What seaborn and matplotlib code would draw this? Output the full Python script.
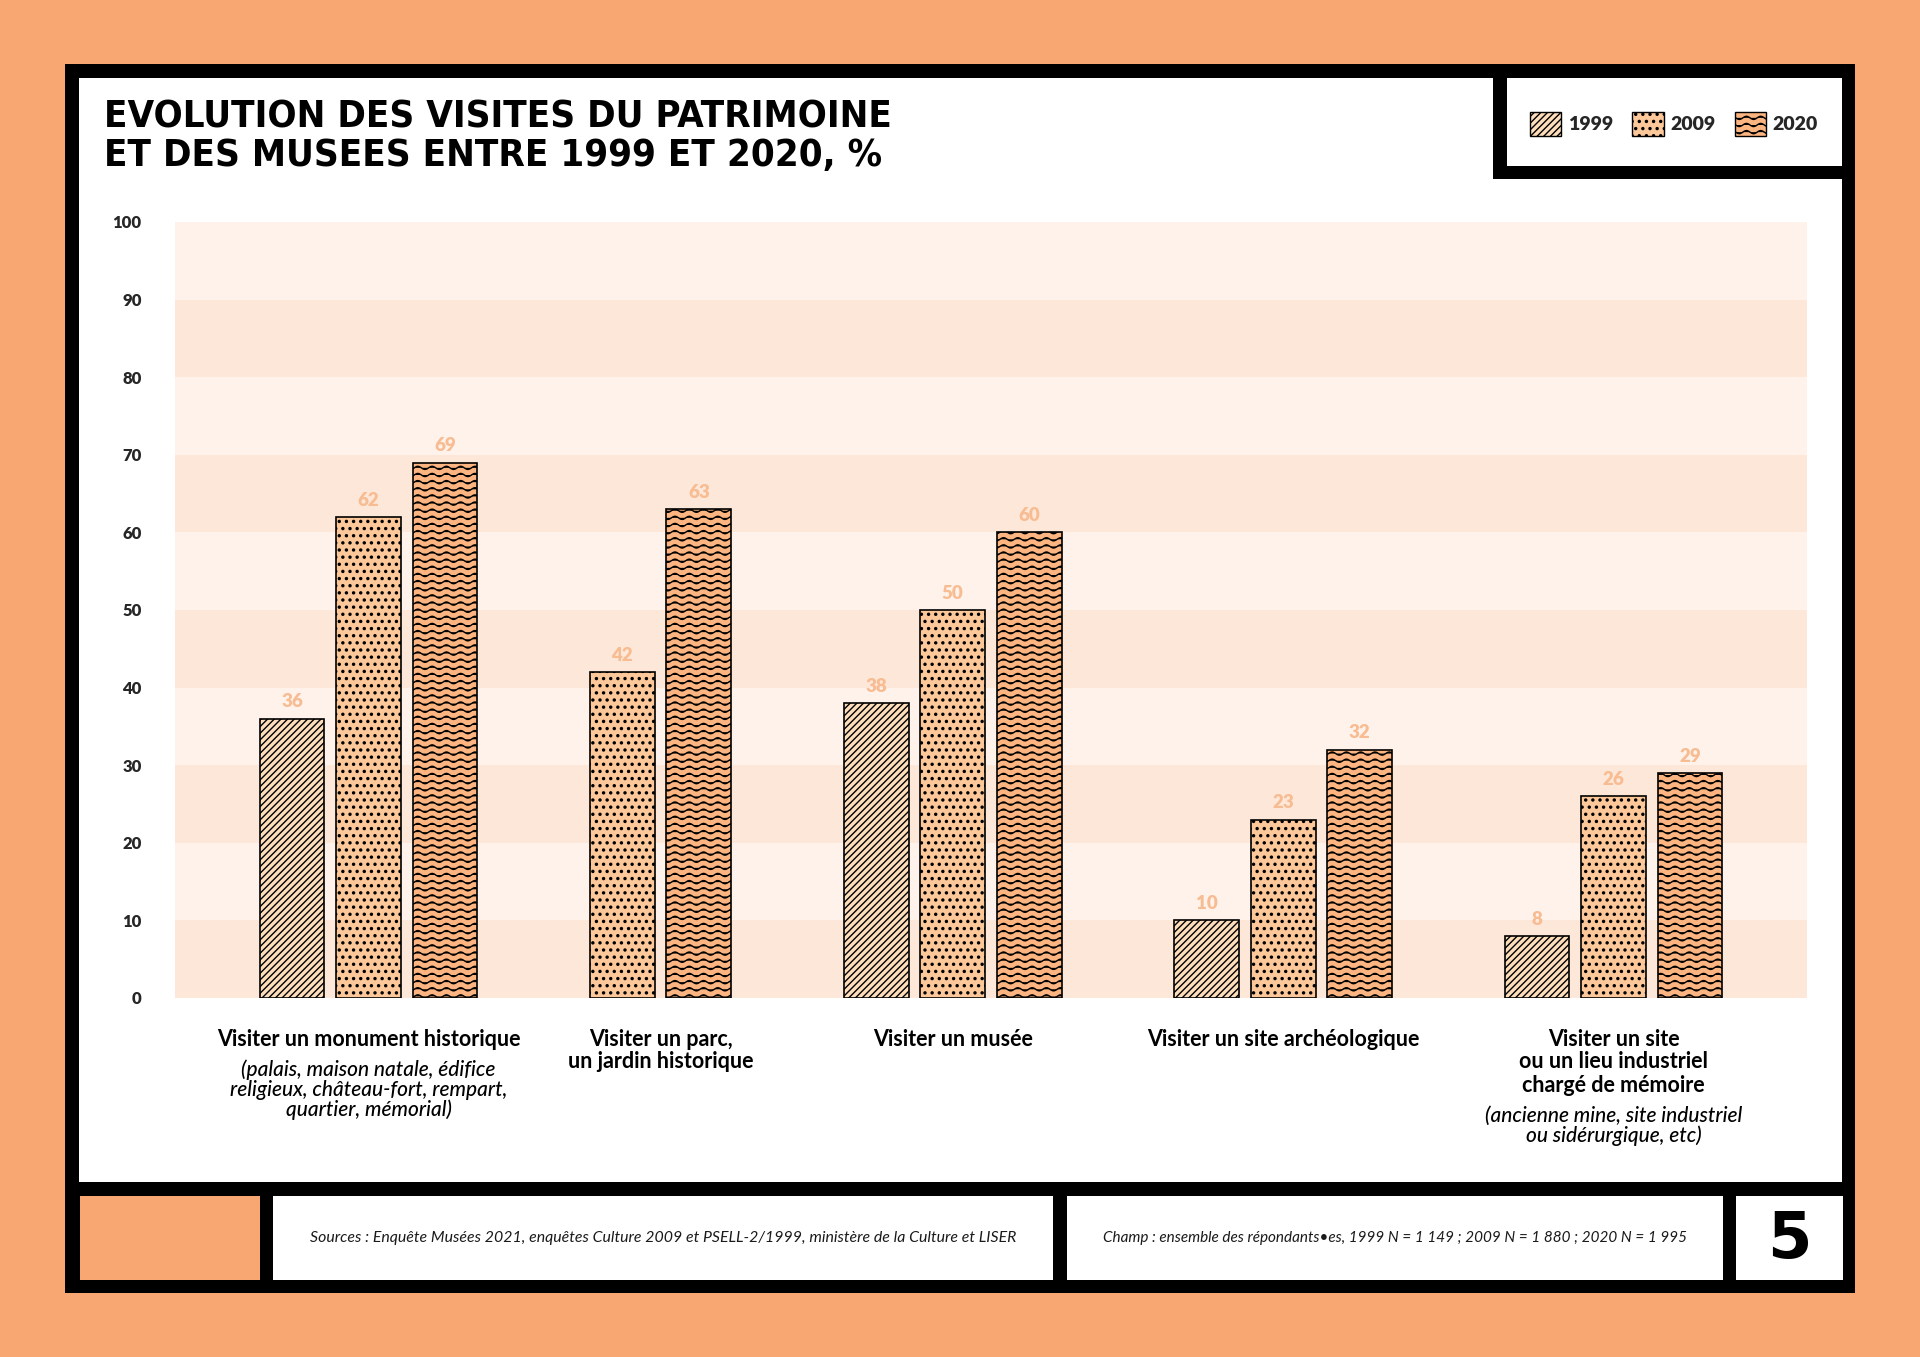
import warnings
import numpy as np
import pandas as pd
import seaborn as sns
import matplotlib.pyplot as plt
import matplotlib.hatch as mhatch
from matplotlib.path import Path
from matplotlib.patches import Rectangle, Patch
from matplotlib import transforms
from matplotlib.colors import to_rgba

warnings.filterwarnings("ignore")

# données (%)
categories = ["monument", "parc", "musee", "archeo", "industriel"]
years = ["1999", "2009", "2020"]
v1999 = [36, None, 38, 10, 8]
v2009 = [62, 42, 50, 23, 26]
v2020 = [69, 63, 60, 32, 29]

labels_bold = [
    ["Visiter un monument historique"],
    ["Visiter un parc,", "un jardin historique"],
    ["Visiter un musée"],
    ["Visiter un site archéologique"],
    ["Visiter un site", "ou un lieu industriel", "chargé de mémoire"],
]
labels_italic = [
    ["(palais, maison natale, édifice", "religieux, château-fort, rempart,", "quartier, mémorial)"],
    [],
    [],
    [],
    ["(ancienne mine, site industriel", "ou sidérurgique, etc)"],
]
yticks = list(range(0, 101, 10))

title_lines = ["EVOLUTION DES VISITES DU PATRIMOINE", "ET DES MUSEES ENTRE 1999 ET 2020, %"]
source = "Sources : Enquête Musées 2021, enquêtes Culture 2009 et PSELL-2/1999, ministère de la Culture et LISER"
champ = "Champ : ensemble des répondants•es, 1999 N = 1 149 ; 2009 N = 1 880 ; 2020 N = 1 995"
page = "5"

ORANGE = "#F8A772"
BAND_DARK = "#FDE7D9"
BAND_LIGHT = "#FEF2EA"
bar_colors = ["#FDDDBA", "#FDC899", "#FCB580"]
hatches = ["/////", "::", "~~"]
LABEL_COLOR = "#F8BC92"


# motif ondulé pour 2020 (pas disponible dans matplotlib)
class WavyHatch(mhatch.HatchPatternBase):
    def __init__(self, hatch, density):
        self.num_lines = hatch.count("~") * 7
        self.n_pts = 85
        self.num_vertices = self.num_lines * self.n_pts

    def set_vertices_and_codes(self, vertices, codes):
        t = np.linspace(0, 1, self.n_pts)
        for i in range(self.num_lines):
            sl = slice(i * self.n_pts, (i + 1) * self.n_pts)
            vertices[sl, 0] = t
            vertices[sl, 1] = (i + 0.5) / self.num_lines + 0.016 * np.sin(2 * np.pi * 7 * t)
            codes[sl] = Path.LINETO
            codes[i * self.n_pts] = Path.MOVETO


# points un peu plus gros que le "." de matplotlib
class BigDots(mhatch.Circles):
    size = 0.14
    filled = True

    def __init__(self, hatch, density):
        self.num_rows = hatch.count(":") * 7
        super().__init__(hatch, density)


mhatch._hatch_types.append(WavyHatch)
mhatch._hatch_types.append(BigDots)

sns.set_style("white")
plt.rcParams["font.family"] = ["Lato", "DejaVu Sans"]
plt.rcParams["hatch.linewidth"] = 1.0
plt.rcParams["hatch.color"] = "black"

W, H = 1920, 1357
fig = plt.figure(figsize=(W / 100, H / 100), dpi=100)
fig.patch.set_facecolor(ORANGE)


def fy(px):
    return 1 - px / H


def box(x0, y0, x1, y1, color):
    fig.add_artist(Rectangle((x0 / W, 1 - y1 / H), (x1 - x0) / W, (y1 - y0) / H,
                             transform=fig.transFigure, facecolor=color,
                             linewidth=0, zorder=-10))


box(65, 64, 1855, 1293, "black")
box(79, 78, 1842, 1182, "white")
box(1493, 64, 1855, 179, "black")
box(1507, 78, 1842, 166, "white")
box(80, 1196, 260, 1280, ORANGE)
box(273, 1196, 1053, 1280, "white")
box(1067, 1196, 1723, 1280, "white")
box(1736, 1196, 1843, 1280, "white")

# tableau long, les groupes sont espacés selon le nombre de barres présentes
rows = []
pos = None
groups = []
for i, cat in enumerate(categories):
    members = []
    for yr, vals in zip(years, [v1999, v2009, v2020]):
        if vals[i] is None:
            continue
        if pos is None:
            pos = 0.0
        elif members:
            pos += 1.0
        else:
            pos += 2.32
        rows.append({"pos": round(pos, 3), "valeur": vals[i], "annee": yr})
        members.append(pos)
    groups.append(np.mean(members))
df = pd.DataFrame(rows)

ax = fig.add_axes([175 / W, 1 - 998 / H, (1807 - 175) / W, (998 - 222) / H])
ax.set_facecolor("white")

for lo in yticks[:-1]:
    ax.axhspan(lo, lo + 10, color=BAND_DARK if (lo // 10) % 2 == 0 else BAND_LIGHT,
               lw=0, zorder=0)

sns.barplot(data=df, x="pos", y="valeur", hue="annee", hue_order=years,
            palette=dict(zip(years, bar_colors)), native_scale=True, dodge=False,
            orient="x", width=0.848, saturation=1, errorbar=None,
            edgecolor="black", linewidth=1.2, legend=False, ax=ax, zorder=3)

for cont in ax.containers:
    fc = cont.patches[0].get_facecolor()
    k = int(np.argmin([np.abs(np.array(fc) - np.array(to_rgba(c))).sum() for c in bar_colors]))
    for p in cont.patches:
        p.set_hatch(hatches[k])
    ax.bar_label(cont, padding=6, color=LABEL_COLOR, fontsize=13.5, fontweight="heavy")

ax.set_ylim(0, 100)
ax.set_xlim(df["pos"].min() - 1.53, df["pos"].max() + 1.53)
ax.set_yticks(yticks, labels=[str(v) for v in yticks], fontweight="heavy", fontsize=12)
ax.set_xticks([])
ax.set_xlabel("")
ax.set_ylabel("")
ax.tick_params(axis="y", length=0, pad=24)
sns.despine(ax=ax, left=True, bottom=True)

# libellés des catégories
trans = transforms.blended_transform_factory(ax.transData, fig.transFigure)
for gx, bold, ital in zip(groups, labels_bold, labels_italic):
    y = 1039
    for line in bold:
        ax.text(gx, fy(y), line, transform=trans, ha="center", va="center",
                fontsize=15.5, fontweight="bold", color="black")
        y += 23
    y += 8
    for line in ital:
        ax.text(gx, fy(y), line, transform=trans, ha="center", va="center",
                fontsize=15, fontstyle="italic", fontweight="medium", color="black")
        y += 20

# titre
for j, line in enumerate(title_lines):
    fig.text(104 / W, fy(118 + 38 * j), line, ha="left", va="center", fontsize=27.5,
             fontweight="bold", fontstretch="condensed", family=["DejaVu Sans"], color="black")

# légende
handles = [Patch(facecolor=c, edgecolor="black", hatch=h, linewidth=1.0)
           for c, h in zip(bar_colors, hatches)]
fig.legend(handles, years, loc="center", bbox_to_anchor=(1674 / W, fy(124)), ncol=3,
           frameon=False, handlelength=1.6, handleheight=1.6, handletextpad=0.35,
           columnspacing=1.0, prop=dict(family="Lato", weight="heavy", size=14))

# pied de page
fig.text(663 / W, fy(1238), source, ha="center", va="center", fontsize=11.4,
         fontstyle="italic", fontweight="normal", color="#1a1a1a")
fig.text(1395 / W, fy(1238), champ, ha="center", va="center", fontsize=11.0,
         fontstyle="italic", fontweight="normal", color="#1a1a1a")
fig.text(1789 / W, fy(1240), page, ha="center", va="center", fontsize=46,
         fontweight="bold", family=["DejaVu Sans"], color="black")

fig.savefig("out.png", dpi=100, facecolor=fig.get_facecolor())
